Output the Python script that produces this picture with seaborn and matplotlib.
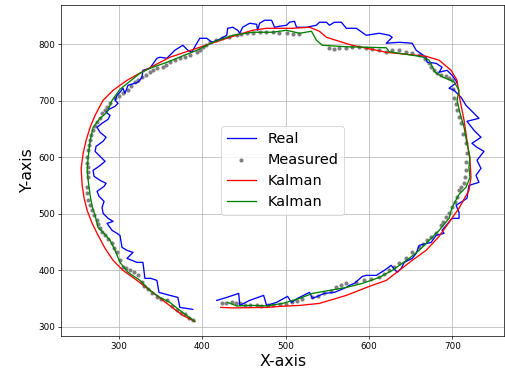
import matplotlib
matplotlib.use("Agg")
import matplotlib.pyplot as plt
import seaborn as sns
import pandas as pd

# Real trajectory
real_x = [388.7, 373.2, 370.8, 361.2, 348.1, 345.7, 338.5, 331.3, 328.9, 321.8, 309.8, 317.0, 309.8, 303.8,
          301.4, 297.8, 291.9, 285.9, 293.1, 287.1, 281.1, 279.9,
          282.3, 276.3, 273.9, 282.3, 284.7, 277.5, 270.3, 269.1, 276.3, 283.5, 277.5, 271.5, 272.7, 281.1,
          284.7, 277.5, 273.9, 279.9, 287.1, 289.5, 284.7, 288.3, 295.5, 299.0, 295.5, 297.8, 301.4,
          305.0, 307.4, 311.0, 323.0, 327.7, 328.9, 337.3, 345.7, 349.3, 357.6, 367.2, 376.8, 382.8, 387.5,
          393.5, 397.1, 405.5, 411.5, 418.6, 429.4, 430.6, 436.6, 442.6, 445.0, 448.5, 456.9, 465.3, 466.5,
          468.9, 474.9, 483.2, 486.8, 492.8, 501.2, 504.8, 510.7, 513.1, 525.1, 537.0, 540.6, 549.0, 552.6,
          558.6, 566.9, 572.9, 584.9, 596.8, 612.4, 624.4, 627.9, 620.8, 636.3, 651.9, 656.7, 668.6, 669.8,
          680.6, 687.7, 684.2, 693.7, 699.7, 705.7, 696.1, 702.1, 710.5, 716.4, 732.0, 717.6, 726.0, 734.4,
          723.6, 729.6, 738.0, 729.6, 734.4, 728.4, 732.0, 720.0, 717.6, 704.5, 708.1, 708.1, 699.7, 687.7,
          690.1, 680.6, 674.6, 660.2, 656.7, 651.9, 642.3, 638.7, 633.9, 626.7, 618.4, 608.8, 596.8, 592.1,
          582.5, 576.5, 572.9, 558.6, 546.6, 532.3, 528.7, 514.3, 507.1, 502.4, 489.2, 477.2, 473.7, 456.9,
          445.0, 443.8, 429.4, 417.4]
real_y = [330.6, 334.1, 351.8, 355.4, 360.7, 381.9, 385.5, 385.5, 413.8, 413.8, 420.9, 431.5, 435.1, 440.4,
          461.6, 465.2, 470.5, 482.9, 486.4, 491.8, 500.6, 511.2,
          521.9, 530.7, 539.6, 548.4, 553.8, 559.1, 566.2, 576.8, 583.9, 592.7, 601.6, 610.4, 619.3, 628.2,
          635.3, 644.1, 653.0, 660.1, 667.1, 674.2, 679.5, 684.9, 690.2, 695.5, 700.8, 709.7, 715.0,
          722.1, 713.2, 727.4, 732.7, 741.5, 753.9, 757.5, 775.2, 777.0, 775.2, 789.4, 798.2, 789.4, 785.8,
          801.8, 810.6, 810.6, 803.5, 807.1, 815.9, 828.3, 830.1, 824.8, 819.5, 830.1, 837.2, 835.4, 824.8,
          837.2, 842.5, 842.5, 830.1, 831.9, 833.7, 839.0, 840.7, 830.1, 830.1, 833.7, 839.0, 839.0, 833.7,
          839.0, 839.0, 828.3, 828.3, 815.9, 819.5, 815.9, 812.4, 801.8, 803.5, 801.8, 789.4, 777.0, 768.1,
          766.3, 759.3, 750.4, 753.9, 745.1, 732.7, 722.1, 718.5, 706.1, 691.9, 668.9, 663.6, 647.7, 635.3,
          624.6, 617.5, 610.4, 594.5, 580.3, 567.9, 555.5, 550.2, 527.2, 514.8, 502.4, 491.8, 491.8, 470.5,
          465.2, 461.6, 449.2, 443.9, 429.8, 420.9, 413.8, 403.2, 396.1, 408.5, 399.6, 390.8, 390.8, 389.0,
          376.6, 373.1, 369.5, 360.7, 358.9, 350.0, 360.7, 350.0, 343.0, 353.6, 343.0, 337.6, 355.4, 346.5,
          337.6, 358.9, 351.8, 346.5]

# Measured points
meas_x = [388.7, 384.0, 379.2, 374.0, 369.6, 364.0, 357.6, 351.0, 345.7, 340.0, 334.9, 330.0, 327.7, 323.0,
          318.0, 313.4, 308.0, 305.0, 301.0, 297.8, 294.0, 291.9, 287.0, 283.5, 280.0, 277.5, 275.0, 273.9,
          270.0, 267.9, 265.0, 263.2, 262.0, 262.0, 263.2, 262.5, 263.2, 262.0, 262.0, 263.0, 264.0, 265.6,
          267.0, 269.1, 271.0, 273.9, 277.0, 279.9, 283.0, 285.9, 290.0, 295.5, 300.0, 305.0, 311.0, 315.0,
          319.4, 323.0, 327.7, 333.0, 337.3, 341.0, 345.7, 352.9, 357.0, 361.2, 367.0, 373.2, 379.0, 385.2,
          393.5, 397.0, 400.7, 405.0, 409.1, 416.0, 423.4, 432.0, 441.4, 447.0, 453.3, 461.0, 468.9, 476.0,
          484.4, 492.0, 501.2, 509.0, 516.7,
          552.6, 558.0, 564.6, 572.0, 580.1, 588.5, 596.0, 604.0, 612.0, 620.8, 628.0, 636.3, 644.0, 651.9,
          660.2, 667.0, 672.2, 675.0, 678.2, 681.8, 687.0, 692.5, 696.0, 699.7, 701.0, 702.1, 704.0, 705.7,
          708.0, 710.5, 713.0, 716.4, 717.6, 717.0, 716.4, 715.0, 714.1, 711.0, 708.1, 705.7, 703.0, 699.7,
          696.0, 692.5, 689.0, 686.5, 680.6, 675.0, 669.8, 665.0, 660.2, 651.9, 644.0, 636.3, 630.0, 624.4,
          618.0, 612.4, 603.0, 594.5, 584.0, 572.9, 567.0, 561.0, 554.0, 546.6, 539.0, 532.3, 520.3, 514.0,
          508.3, 500.0, 492.8, 485.0, 478.4, 471.0, 465.3, 456.9, 451.0, 445.0, 440.0, 435.4, 429.0, 423.4]
meas_y = [311.1, 316.0, 321.7, 325.0, 328.8, 337.0, 346.5, 349.0, 351.8, 359.0, 366.0, 372.0, 378.4, 390.8,
          396.0, 399.6, 403.0, 405.0, 418.0, 431.5, 440.0, 447.5, 455.0, 461.6, 468.0, 474.0, 481.0, 488.2,
          497.0, 505.9, 515.0, 523.6, 536.0, 548.0, 564.4, 573.0, 582.1, 590.0, 599.8, 612.0, 621.0, 629.9,
          639.0, 647.7, 655.0, 661.8, 670.0, 677.8, 684.0, 688.4, 696.0, 704.3, 709.0, 713.2, 718.5, 726.0,
          732.7, 737.0, 741.5, 746.0, 750.4, 755.0, 757.5, 759.3, 764.0, 768.1, 772.0, 775.2, 778.0, 780.5,
          785.8, 790.0, 794.7, 799.0, 803.5, 807.0, 810.6, 813.0, 815.9, 818.0, 819.5, 820.0, 821.3, 821.0,
          821.3, 820.0, 819.5, 818.0, 817.7,
          792.9, 792.0, 792.9, 793.0, 794.7, 794.7, 793.0, 791.1, 789.0, 785.8, 789.0, 789.4, 787.0, 784.1,
          780.5, 774.0, 766.3, 760.0, 753.9, 748.6, 746.0, 743.3, 740.0, 736.2, 720.0, 704.3, 694.0, 683.1,
          672.0, 660.1, 642.0, 624.6, 606.9, 592.0, 576.8, 565.0, 553.8, 547.0, 541.4, 529.0, 520.0, 511.2,
          502.0, 493.5, 486.0, 479.4, 465.2, 459.0, 452.8, 446.0, 440.4, 431.5, 421.0, 412.0, 405.0, 399.6,
          393.0, 387.2, 384.0, 381.9, 379.0, 376.6, 373.0, 369.5, 364.0, 358.9, 355.0, 351.8, 348.3, 345.0,
          343.0, 341.0, 339.4, 338.0, 337.6, 337.0, 337.6, 337.6, 339.0, 341.2, 342.0, 343.0, 342.0, 341.2]

# Kalman estimate 1
kal1_x = [391.1, 376.8, 357.6, 337.3, 321.8, 305.0, 293.1, 283.5, 273.9, 268.0, 262.0, 258.4, 256.0, 254.8,
          257.2, 260.8, 265.6, 271.5, 281.1, 293.1, 309.8, 331.3, 361.2, 397.1, 429.4, 460.5, 477.2, 508.3,
          528.7, 540.6, 549.0, 568.1, 580.1, 620.8, 656.7, 668.6, 684.2, 698.5, 705.7, 709.3, 714.1, 717.6,
          721.2, 722.4, 720.0, 715.3, 708.0, 696.1, 684.2, 668.6, 651.9, 636.3, 620.8, 600.4, 572.9, 540.6,
          516.7, 492.8, 477.2, 436.5, 422.2]
kal1_y = [309.3, 319.9, 341.2, 364.2, 381.9, 399.6, 417.4, 438.6, 465.2, 482.9, 505.9, 527.2, 550.2, 580.3,
          606.9, 629.9, 653.0, 674.2, 700.8, 718.5, 736.2, 753.9, 777.0, 794.7, 810.6, 824.8, 828.3, 828.3,
          830.1, 823.0, 812.4, 803.5, 798.2, 785.8, 780.5, 778.7, 771.7, 753.9, 736.2, 700.8, 665.4, 630.0,
          594.5, 564.4, 541.4, 528.9, 509.5, 484.7, 459.9, 435.1, 417.4, 399.6, 381.9, 371.3, 355.4, 341.2,
          337.6, 335.9, 334.1, 333.2, 334.1]

# Kalman estimate 2
kal2_x = [391.1, 373.2, 361.2, 349.2, 337.3, 325.4, 311.0, 301.4, 295.5, 289.5, 281.1, 275.1, 271.5, 268.0,
          265.6, 263.2, 262.0, 263.2, 265.6, 269.1, 277.5, 285.9, 291.9, 301.4, 313.4, 325.4, 337.3, 357.6,
          369.6, 393.5, 412.7, 436.5, 460.5, 484.4, 501.2, 516.7, 531.1, 537.1, 544.2, 572.9, 620.8, 624.4,
          663.8, 672.2, 679.4, 689.0, 702.1, 708.1, 705.7, 709.3, 714.1, 717.6, 721.2, 720.0, 721.2, 716.4,
          708.1, 699.7, 696.1, 684.2, 672.2, 660.3, 648.3, 628.0, 612.4, 592.1, 572.9, 552.6, 532.3, 516.7,
          496.4, 477.2, 460.5, 441.4, 430.6]
kal2_y = [309.3, 328.8, 343.0, 351.8, 364.2, 381.9, 396.1, 413.8, 435.1, 452.8, 467.0, 475.8, 497.1, 513.0,
          532.5, 559.1, 576.8, 599.8, 629.9, 653.0, 668.9, 679.5, 700.8, 720.3, 734.5, 748.6, 757.5, 768.1,
          775.2, 789.4, 803.5, 815.9, 821.3, 821.3, 824.8, 819.5, 823.0, 807.1, 798.2, 795.6, 793.8, 786.7,
          777.9, 771.7, 750.4, 741.5, 733.6, 718.5, 700.8, 677.8, 653.0, 624.6, 599.8, 582.1, 564.4, 546.7,
          534.3, 511.2, 491.8, 470.5, 452.8, 435.1, 420.9, 399.6, 387.2, 376.6, 369.5, 364.2, 358.9, 350.0,
          341.2, 336.7, 337.6, 336.7, 342.9]

real = pd.DataFrame({"x": real_x, "y": real_y})
meas = pd.DataFrame({"x": meas_x, "y": meas_y})
kal1 = pd.DataFrame({"x": kal1_x, "y": kal1_y})
kal2 = pd.DataFrame({"x": kal2_x, "y": kal2_y})

fig = plt.figure(figsize=(8.0, 5.925), dpi=63.125)
ax = fig.add_axes([0.1214, 0.1024, 0.8766, 0.8834])

sns.lineplot(data=real, x="x", y="y", sort=False, estimator=None, color="blue", linewidth=1.5,
             label="Real", ax=ax)
sns.scatterplot(data=meas, x="x", y="y", color="gray", s=22, linewidth=0,
                label="Measured", ax=ax)
sns.lineplot(data=kal1, x="x", y="y", sort=False, estimator=None, color="red", linewidth=1.5,
             label="Kalman", ax=ax)
sns.lineplot(data=kal2, x="x", y="y", sort=False, estimator=None, color="green", linewidth=1.5,
             label="Kalman", ax=ax)

ax.set_xlim(231, 762)
ax.set_ylim(284, 869)
ax.grid(True, color="#b0b0b0", linewidth=0.8)
ax.set_axisbelow(True)
ax.set_xlabel("X-axis", fontsize=18)
ax.set_ylabel("Y-axis", fontsize=18)
ax.tick_params(labelsize=10)
ax.legend(loc="center", fontsize=16.5)

fig.savefig("out.png", dpi=63.125)
